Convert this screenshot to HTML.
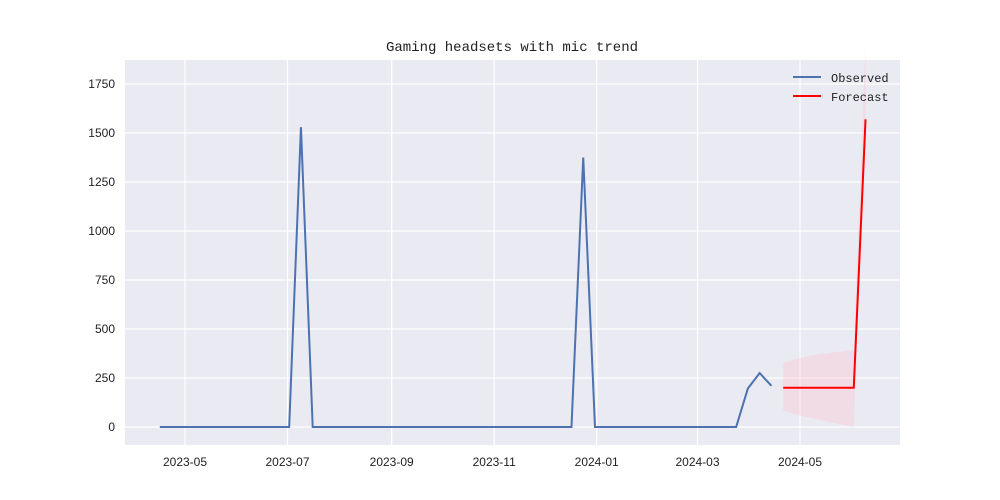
<!DOCTYPE html>
<html><head><meta charset="utf-8"><style>
body{margin:0;background:#fff;width:1000px;height:500px;overflow:hidden}
svg{display:block}
.tick{font-family:"Liberation Sans",sans-serif;font-size:12px;fill:#222}
.mono{font-family:"WenQuanYi Zen Hei","Liberation Mono",monospace;fill:#222}
</style></head><body>
<svg id="chart" width="1000" height="500"></svg>
<script>
const obsStart = "2023-04-16";
const observed = [0,0,0,0,0,0,0,0,0,0,0,0,1530,0,0,0,0,0,0,0,0,0,0,0,0,0,0,0,0,0,0,0,0,0,0,0,1375,0,0,0,0,0,0,0,0,0,0,0,0,0,197,275,210];
const forecast = [200,200,200,200,200,200,200,1570];
const fcUpper = [325,345,360,370,378,385,392,1950];
const fcLower = [85,65,50,38,25,12,0,1560];
const yTicks = [0,250,500,750,1000,1250,1500,1750];
const xTickLabels = ["2023-05","2023-07","2023-09","2023-11","2024-01","2024-03","2024-05"];

const NS="http://www.w3.org/2000/svg";
const svg=document.getElementById('chart');
const L=125,R=900,T=60,B=445;
const d0=Date.parse("2023-05-01"), d1=Date.parse("2024-05-01");
const xs=t=>185+(t-d0)/(d1-d0)*615;
const ys=v=>427-v*0.196;
const DAY=86400000, s0=Date.parse(obsStart);
function el(tag,attrs,parent){const e=document.createElementNS(NS,tag);for(const k in attrs)e.setAttribute(k,attrs[k]);(parent||svg).appendChild(e);return e;}
const bg=el('rect',{x:L,y:T,width:R-L,height:B-T,fill:'#eaeaf2'});


yTicks.forEach(v=>{
  const g=el('line',{x1:L,x2:R,y1:ys(v),y2:ys(v),stroke:'#fff','stroke-width':1.2});
  
  
  const t=el('text',{x:115,y:ys(v)+4,'text-anchor':'end',class:'tick'});
  t.textContent=v;
  
  
});
xTickLabels.forEach(s=>{
  const x=xs(Date.parse(s+"-01"));
  const g=el('line',{x1:x,x2:x,y1:T,y2:B,stroke:'#fff','stroke-width':1.2});
  
  
  const t=el('text',{x:x,y:466,'text-anchor':'middle',class:'tick'});
  t.textContent=s;
  
  
});
const fx=i=>xs(s0+(observed.length+i)*7*DAY);
let band='';
forecast.forEach((v,i)=>{band+=(i?'L':'M')+fx(i)+','+ys(fcUpper[i]);});
for(let i=forecast.length-1;i>=0;i--)band+='L'+fx(i)+','+ys(fcLower[i]);
const bp=el('path',{d:band+'Z',fill:'#ffc0cb','fill-opacity':0.35});


const op=el('polyline',{points:observed.map((v,i)=>xs(s0+i*7*DAY)+','+ys(v)).join(' '),fill:'none',stroke:'#4c72b0','stroke-width':2});


const fp=el('polyline',{points:forecast.map((v,i)=>fx(i)+','+ys(v)).join(' '),fill:'none',stroke:'#ff0000','stroke-width':2});


const title=el('text',{x:512,y:51,'text-anchor':'middle',class:'mono','font-size':14});
title.textContent='Gaming headsets with mic trend';


[['Observed','#4c72b0',77],['Forecast','#ff0000',96]].forEach(([n,c,y])=>{
  const g=el('g',{});
  
  
  el('line',{x1:793,x2:821,y1:y,y2:y,stroke:c,'stroke-width':2},g);
  const t=el('text',{x:831,y:y+5,class:'mono','font-size':12},g);
  t.textContent=n;
});
</script>
</body></html>
